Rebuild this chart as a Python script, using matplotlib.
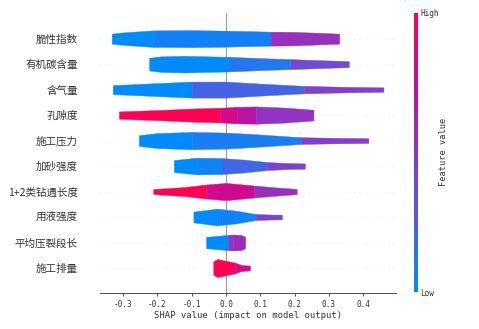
import numpy as np
import matplotlib.pyplot as plt
from matplotlib.colors import LinearSegmentedColormap
from matplotlib.cm import ScalarMappable

plt.rcParams['font.family'] = ['Noto Sans CJK SC', 'DejaVu Sans']

# features, top to bottom
features = ['脆性指数', '有机碳含量', '含气量', '孔隙度', '施工压力',
            '加砂强度', '1+2类钻遇长度', '用液强度', '平均压裂段长', '施工排量']

# violin outline per feature: SHAP value, thickness (px at row spacing 25.5), layer colour value
shap_x = [
    [-0.333, -0.30, -0.212, -0.10, 0.0, 0.130, 0.20, 0.330],
    [-0.224, -0.19, -0.12, -0.05, 0.007, 0.10, 0.187, 0.27, 0.358],
    [-0.330, -0.20, -0.100, 0.0, 0.10, 0.227, 0.35, 0.459],
    [-0.312, -0.20, -0.10, -0.017, 0.031, 0.087, 0.17, 0.255],
    [-0.254, -0.20, -0.100, 0.0, 0.08, 0.218, 0.32, 0.415],
    [-0.152, -0.085, -0.013, 0.05, 0.120, 0.18, 0.230],
    [-0.212, -0.12, -0.058, 0.0, 0.082, 0.15, 0.206],
    [-0.095, -0.027, 0.03, 0.087, 0.13, 0.163],
    [-0.058, 0.006, 0.021, 0.045, 0.056],
    [-0.037, -0.025, -0.005, 0.026, 0.045, 0.070],
]
thick_px = [
    [10, 12.5, 16.5, 17, 16, 14, 13.5, 10],
    [12.7, 15.5, 16.7, 15.5, 14.7, 12, 10, 8, 6],
    [9, 13, 16, 16, 12, 7.5, 5.5, 4.5],
    [7.3, 10, 13, 14.7, 16.5, 17.3, 15, 10.7],
    [10.7, 15, 17.3, 16, 13, 6.7, 5.5, 4.7],
    [12, 16.7, 16, 13, 8, 6, 5.3],
    [5, 9, 14, 17.3, 12, 8, 5.3],
    [10.7, 16.7, 12.7, 6, 5, 4.7],
    [11.3, 15.3, 16, 15, 11.3],
    [13.3, 18, 15, 10.7, 6, 4.7],
]
layer_val = [
    [0.0, 0.0, 0.06, 0.06, 0.06, 0.55, 0.55],
    [0.0, 0.0, 0.0, 0.0, 0.12, 0.12, 0.38, 0.38],
    [0.0, 0.0, 0.22, 0.22, 0.22, 0.45, 0.45],
    [1.0, 1.0, 1.0, 0.82, 0.72, 0.52, 0.52],
    [0.0, 0.0, 0.08, 0.08, 0.08, 0.45, 0.45],
    [0.0, 0.05, 0.2, 0.2, 0.42, 0.42],
    [1.0, 1.0, 0.8, 0.8, 0.55, 0.55],
    [0.0, 0.04, 0.04, 0.42, 0.42],
    [0.0, 0.48, 0.58, 0.58],
    [1.0, 1.0, 1.0, 0.82, 0.82],
]

xticks = [-0.3, -0.2, -0.1, 0.0, 0.1, 0.2, 0.3, 0.4]

cmap = LinearSegmentedColormap.from_list(
    'shap_rb', ['#008bfb', '#4f5fe2', '#8e37c6', '#c20ea0', '#ff0052'])

fig = plt.figure(figsize=(4.79, 3.29), dpi=100)
ax = fig.add_axes([0.209, 0.108, 0.618, 0.852])

n = len(features)
row_px = 25.5
for i, name in enumerate(features):
    y = n - 1 - i
    ax.axhline(y, color='#dddddd', lw=0.5, dashes=(1, 5), zorder=0)
    xs = np.array(shap_x[i])
    hw = np.array(thick_px[i]) / row_px / 2
    vals = layer_val[i]
    # one polygon per run of equal colour value
    start = 0
    for k in range(1, len(vals) + 1):
        if k == len(vals) or vals[k] != vals[start]:
            c = cmap(vals[start])
            sl = slice(start, k + 1)
            ax.fill_between(xs[sl], y - hw[sl], y + hw[sl],
                            color=c, lw=0.3, ec=c, zorder=2)
            start = k

ax.axvline(0, color='#999999', lw=0.8, zorder=1)

ax.set_ylim(-1, n)
ax.set_xlim(-0.367, 0.496)
ax.set_yticks(range(n))
ax.set_yticklabels(features[::-1], fontsize=7.6, color='#333333')
ax.tick_params(axis='y', length=0, pad=16)
ax.set_xticks(xticks)
ax.set_xticklabels([f'{v:.1f}' for v in xticks], family='DejaVu Sans Mono',
                   fontsize=5.6, color='#333333')
ax.tick_params(axis='x', length=2.5, width=0.6, color='#333333', pad=2)
ax.set_xlabel('SHAP value (impact on model output)', family='DejaVu Sans Mono',
              fontsize=6.4, color='#333333', labelpad=2)
for s in ['top', 'left', 'right']:
    ax.spines[s].set_visible(False)
ax.spines['bottom'].set_color('#333333')
ax.spines['bottom'].set_linewidth(0.6)

# colour bar
cax = fig.add_axes([0.865, 0.112, 0.007, 0.85])
sm = ScalarMappable(cmap=cmap)
sm.set_array([0, 1])
cb = fig.colorbar(sm, cax=cax, ticks=[0, 1])
cb.set_ticklabels(['Low', 'High'])
cb.outline.set_visible(False)
cb.ax.tick_params(length=0, pad=2, labelsize=5.6)
for t in cb.ax.get_yticklabels():
    t.set_family('DejaVu Sans Mono')
    t.set_color('#333333')
cb.set_label('Feature value', family='DejaVu Sans Mono', fontsize=6.2,
             color='#333333', labelpad=0)

fig.savefig('out.png', dpi=100)
